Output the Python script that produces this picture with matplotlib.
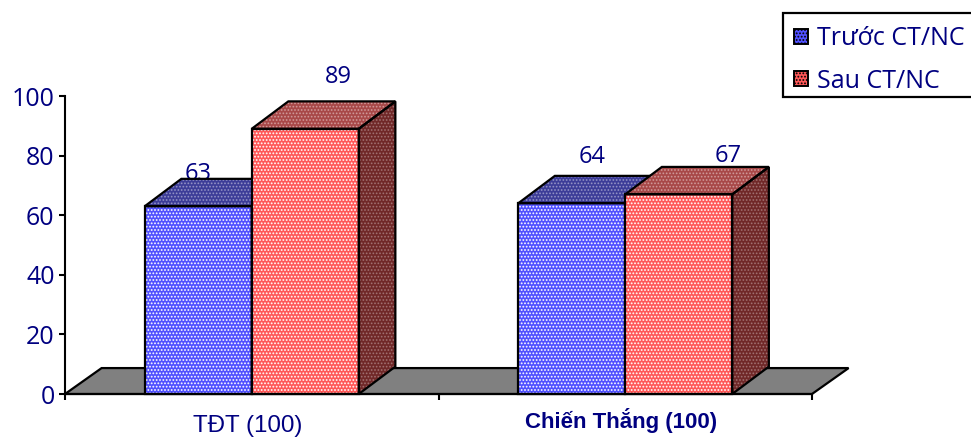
import matplotlib
matplotlib.use('Agg')
import matplotlib.pyplot as plt
from matplotlib.patches import Patch, Polygon, Rectangle

categories = ['TĐT (100)', 'Chiến Thắng (100)']
series_names = ['Trước CT/NC', 'Sau CT/NC']
before_values = [63, 64]
after_values = [89, 67]
y_ticks = [0, 20, 40, 60, 80, 100]

NAVY = '#000080'
BLUE = ('#5050ff', '#3c3c98', '#2c2c6c')
RED = ('#ff5858', '#a84848', '#702828')
FLOOR = '#808080'
# dots on the shaded faces are dimmer than on the front
DOT_COLORS = ('#ffffff', '#ffffff66', '#ffffff4d')

BAR_WIDTH = 0.2865
DEPTH_X = 0.098
DEPTH_Y = 9.2

plt.rcParams['font.family'] = ['Open Sans', 'Noto Sans', 'DejaVu Sans']
plt.rcParams['hatch.linewidth'] = 0.85


def draw_box(ax, left, value, colors, zorder):
    """Draw one pseudo-3D column: front face, top and right side."""
    right = left + BAR_WIDTH
    outline = dict(closed=True, fill=False, edgecolor='black', linewidth=1.6,
                   zorder=zorder + 0.1, clip_on=False, joinstyle='miter')
    faces = [
        [(left, 0), (right, 0), (right, value), (left, value)],
        [(left, value), (right, value),
         (right + DEPTH_X, value + DEPTH_Y), (left + DEPTH_X, value + DEPTH_Y)],
        [(right, 0), (right + DEPTH_X, DEPTH_Y),
         (right + DEPTH_X, value + DEPTH_Y), (right, value)],
    ]
    for points, color, dots in zip(faces, colors, DOT_COLORS):
        ax.add_patch(Polygon(points, closed=True, facecolor=color, edgecolor=dots, hatch='.....',
                             linewidth=0, zorder=zorder, clip_on=False))
        ax.add_patch(Polygon(points, **outline))


fig = plt.figure(figsize=(9.71, 4.37), dpi=100)
ax = fig.add_axes([65 / 971, 43 / 437, 747 / 971, 298 / 437])
ax.set_xlim(0, 2)
ax.set_ylim(0, 100)

# grey floor under both groups
ax.add_patch(Polygon([(0, 0), (2, 0), (2 + DEPTH_X, DEPTH_Y - 0.5), (DEPTH_X, DEPTH_Y - 0.5)],
                     closed=True, facecolor=FLOOR, edgecolor='black', linewidth=1.6,
                     zorder=1, clip_on=False))

# value labels sit behind the columns, offsets in pixels from the front top centre
label_offsets = [[(0, 32), (33, 52)], [(20, 46), (49, 38)]]
for i in range(len(categories)):
    left = i + 0.5 - BAR_WIDTH
    draw_box(ax, left, before_values[i], BLUE, 3)
    draw_box(ax, left + BAR_WIDTH, after_values[i], RED, 5)
    for j, value in enumerate((before_values[i], after_values[i])):
        dx, dy = label_offsets[i][j]
        ax.annotate(str(value), (left + (j + 0.5) * BAR_WIDTH, value),
                    xytext=(dx * 0.72, dy * 0.72), textcoords='offset points',
                    ha='center', va='center', fontsize=17, color=NAVY, zorder=2,
                    annotation_clip=False)

for side in ('top', 'right'):
    ax.spines[side].set_visible(False)
for side in ('left', 'bottom'):
    ax.spines[side].set_linewidth(1.5)
    ax.spines[side].set_zorder(8)

ax.set_yticks(y_ticks)
ax.tick_params(axis='y', length=4.5, width=1.5, labelsize=18, labelcolor=NAVY, pad=3)
ax.set_xticks([0, 1, 2])
ax.set_xticklabels([])
ax.tick_params(axis='x', which='major', length=4, width=1.5)

# category names hang on hidden minor ticks, each with its own font and pad
ax.set_xticks([0.49, 1.49], minor=True)
ax.set_xticklabels(categories, minor=True)
ax.tick_params(axis='x', which='minor', length=0, labelcolor=NAVY)
first_tick, second_tick = ax.xaxis.get_minor_ticks()
first_tick.set_pad(15)
second_tick.set_pad(10)
first, second = ax.get_xticklabels(minor=True)
first.set_fontsize(17.4)
first.set_family('Liberation Sans')
second.set_fontsize(16)
second.set_family('Liberation Sans')
second.set_fontweight('bold')

handles = [
    Patch(facecolor=BLUE[0], edgecolor='black', hatch='.....', linewidth=1.4, label=series_names[0]),
    Patch(facecolor=RED[0], edgecolor='black', hatch='.....', linewidth=1.4, label=series_names[1]),
]
legend_box = Rectangle((783 / 971, 1 - 97 / 437), 200 / 971, 84 / 437, transform=fig.transFigure,
                       facecolor='white', edgecolor='black', linewidth=1.6, zorder=9)
fig.add_artist(legend_box)
legend = fig.legend(handles=handles, loc='upper left', bbox_to_anchor=(785 / 971, 1 - 17 / 437),
                    borderaxespad=0, borderpad=0.36, fontsize=18, labelcolor=NAVY,
                    frameon=False, handlelength=0.56, handleheight=0.56,
                    handletextpad=0.36, labelspacing=0.7)
legend.set_zorder(10)

fig.savefig('out.png', dpi=100)
